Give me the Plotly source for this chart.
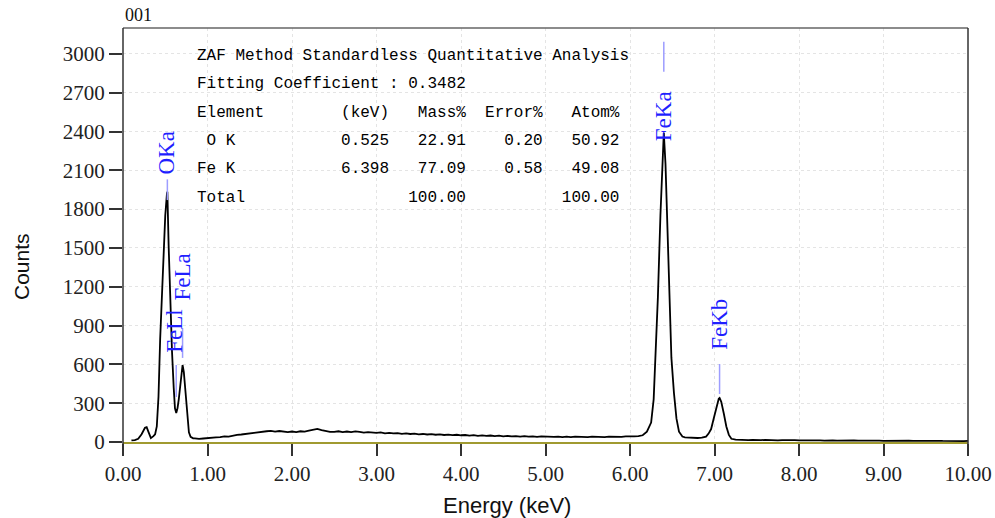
import plotly.graph_objects as go

# ---------------- data ----------------
# spectrum: low-energy region (O K / Fe L peaks)
energy_low = [0.10, 0.14, 0.18, 0.22, 0.26, 0.28, 0.30, 0.33, 0.36, 0.38, 0.40, 0.42, 0.44, 0.46, 0.48,
              0.50, 0.52, 0.525, 0.54, 0.56, 0.58, 0.60, 0.615, 0.63, 0.645, 0.66, 0.68, 0.70, 0.705,
              0.72, 0.74, 0.76, 0.78, 0.80, 0.83]
counts_low = [12, 15, 25, 60, 110, 115, 80, 30, 45, 60, 120, 350, 800, 1150, 1500,
              1750, 1920, 1935, 1520, 1050, 700, 420, 260, 225, 260, 330, 470, 590, 595,
              540, 380, 200, 75, 40, 28]

# background continuum
energy_bg = [0.85, 0.90, 0.95, 1.00, 1.05, 1.10, 1.15, 1.20, 1.25, 1.30, 1.35, 1.40, 1.45, 1.50, 1.55,
             1.60, 1.65, 1.70, 1.75, 1.80, 1.85, 1.90, 1.95, 2.00, 2.05, 2.10, 2.15, 2.20, 2.25, 2.30,
             2.35, 2.40, 2.45, 2.50, 2.55, 2.60, 2.65, 2.70, 2.75, 2.80, 2.85, 2.90, 2.95, 3.00, 3.05,
             3.10, 3.15, 3.20, 3.25, 3.30, 3.35, 3.40, 3.45, 3.50, 3.55, 3.60, 3.65, 3.70, 3.75, 3.80,
             3.85, 3.90, 3.95, 4.00, 4.05, 4.10, 4.15, 4.20, 4.25, 4.30, 4.35, 4.40, 4.45, 4.50, 4.55,
             4.60, 4.65, 4.70, 4.75, 4.80, 4.85, 4.90, 4.95, 5.00, 5.05, 5.10, 5.15, 5.20, 5.25, 5.30,
             5.35, 5.40, 5.45, 5.50, 5.55, 5.60, 5.65, 5.70, 5.75, 5.80, 5.85, 5.90, 5.95, 6.00, 6.05,
             6.10, 6.15]
counts_bg = [28, 24, 27, 28, 31, 35, 38, 44, 42, 50, 55, 58, 63, 66, 70,
             73, 78, 83, 86, 80, 85, 78, 76, 81, 77, 83, 80, 87, 95, 101,
             92, 84, 79, 78, 83, 77, 81, 76, 82, 78, 73, 77, 71, 70, 74,
             67, 71, 66, 69, 63, 66, 62, 65, 59, 62, 58, 61, 56, 59, 54,
             57, 53, 56, 52, 54, 50, 53, 48, 51, 47, 50, 46, 49, 44, 47,
             43, 46, 42, 45, 41, 44, 40, 43, 40, 42, 39, 42, 38, 41, 38,
             42, 39, 41, 38, 41, 39, 42, 38, 41, 39, 42, 40, 43, 41, 43,
             46, 52]

# Fe K peaks
energy_fek = [6.20, 6.25, 6.28, 6.30, 6.33, 6.36, 6.38, 6.40, 6.42, 6.44, 6.46, 6.49, 6.52, 6.55,
              6.58, 6.62, 6.65, 6.70, 6.75, 6.80, 6.85, 6.90, 6.93, 6.96, 6.99, 7.02, 7.05, 7.06,
              7.08, 7.11, 7.14, 7.17, 7.20]
counts_fek = [80, 150, 330, 620, 1120, 1750, 2150, 2390, 2150, 1700, 1150, 650, 380, 180,
              80, 42, 36, 33, 35, 31, 34, 42, 65, 100, 180, 270, 335, 340,
              310, 220, 120, 55, 25]

# high-energy tail
energy_tail = [7.25, 7.30, 7.35, 7.40, 7.45, 7.50, 7.55, 7.60, 7.65, 7.70, 7.75, 7.80, 7.85, 7.90,
               7.95, 8.00, 8.05, 8.10, 8.15, 8.20, 8.25, 8.30, 8.35, 8.40, 8.45, 8.50, 8.55, 8.60,
               8.65, 8.70, 8.75, 8.80, 8.85, 8.90, 8.95, 9.00, 9.05, 9.10, 9.15, 9.20, 9.25, 9.30,
               9.35, 9.40, 9.45, 9.50, 9.55, 9.60, 9.65, 9.70, 9.75, 9.80, 9.85, 9.90, 9.95, 10.00]
counts_tail = [18, 16, 17, 15, 16, 14, 15, 16, 14, 15, 13, 14, 15, 13,
               14, 12, 13, 14, 12, 13, 12, 11, 13, 12, 11, 12, 10, 11,
               12, 10, 11, 10, 9, 11, 10, 9, 10, 9, 10, 8, 9, 10,
               8, 9, 8, 9, 8, 7, 9, 8, 7, 8, 7, 8, 7, 8]

energy_kev = energy_low + energy_bg + energy_fek + energy_tail
counts = counts_low + counts_bg + counts_fek + counts_tail
assert len(energy_kev) == len(counts)

# peak identification labels
peak_names = ["OKa", "FeLl", "FeLa", "FeKa", "FeKb"]
peak_energy = [0.525, 0.63, 0.705, 6.40, 7.06]

# quantitative table
table_title = "ZAF Method Standardless Quantitative Analysis"
fit_line = "Fitting Coefficient : 0.3482"
header = ["Element", "(keV)", "Mass%", "Error%", "Atom%"]
elements = [" O K", "Fe K"]
kev_vals = ["0.525", "6.398"]
mass_vals = ["22.91", "77.09"]
error_vals = ["0.20", "0.58"]
atom_vals = ["50.92", "49.08"]
total_row = ["Total", "", "100.00", "", "100.00"]

x_ticks = [0, 1, 2, 3, 4, 5, 6, 7, 8, 9, 10]
y_ticks = [0, 300, 600, 900, 1200, 1500, 1800, 2100, 2400, 2700, 3000]

# ---------------- figure ----------------
SERIF = "Liberation Serif, Times New Roman, serif"
MONO = "Liberation Mono, Courier New, monospace"
SANS = "Liberation Sans, Arial, sans-serif"
BLUE = "#1f1fff"
LIGHTBLUE = "#9d9dff"
L, R, T, B = 123, 27, 28, 76
PW, PH = 995 - L - R, 518 - T - B

fig = go.Figure()
fig.add_trace(go.Scatter(x=energy_kev, y=counts, mode="lines",
                         line=dict(color="black", width=1.8), hoverinfo="skip", showlegend=False))

# peak marker lines (light blue) and rotated labels
line_spans = {"OKa": (1870, 2030), "FeLl": (348, 595), "FeLa": (650, 881),
              "FeKa": (2861, 3093), "FeKb": (371, 603)}
label_pos = {"OKa": (0.51, 2230), "FeLl": (0.60, 858), "FeLa": (0.706, 1276),
             "FeKa": (6.395, 2521), "FeKb": (7.05, 912)}
for name, e in zip(peak_names, peak_energy):
    y0, y1 = line_spans[name]
    fig.add_shape(type="line", xref="x", yref="y", x0=e, x1=e, y0=y0, y1=y1,
                  line=dict(color=LIGHTBLUE, width=1.5), layer="above")
    lx, ly = label_pos[name]
    fig.add_annotation(x=lx, y=ly, xref="x", yref="y", text=name, showarrow=False,
                       textangle=-90, font=dict(family=SERIF, size=23, color=BLUE),
                       xanchor="center", yanchor="middle")

# table text (monospaced, column aligned)
def row(cells):
    widths = [(0, "l"), (20, "r"), (28, "r"), (36, "r"), (44, "r")]
    s = ""
    for (end, al), c in zip(widths, cells):
        if al == "l":
            s = c
        else:
            s = s.ljust(end - len(c)) + c if c else s
    return s.replace(" ", "\u00a0")

rows = [table_title.replace(" ", "\u00a0"), fit_line.replace(" ", "\u00a0"), row(header)]
for i in range(len(elements)):
    rows.append(row([elements[i], kev_vals[i], mass_vals[i], error_vals[i], atom_vals[i]]))
rows.append(row(total_row))

row_px = [56, 84, 113, 141, 169, 198]
for txt, py in zip(rows, row_px):
    fig.add_annotation(x=(195 - L) / PW, y=(T + PH - py) / PH,
                       xref="paper", yref="paper", text=txt, showarrow=False,
                       xanchor="left", yanchor="middle",
                       font=dict(family=MONO, size=16, color="#000"))

# "001" label
fig.add_annotation(x=0, y=1.0, xref="paper", yref="paper", text="001", showarrow=False,
                   xanchor="left", yanchor="bottom", yshift=1,
                   font=dict(family=SERIF, size=18, color="#111"))

# axis titles
fig.add_annotation(x=(21 - L) / PW, y=(T + PH - 267) / PH, xref="paper", yref="paper",
                   text="Counts", showarrow=False, textangle=-90,
                   xanchor="center", yanchor="middle",
                   font=dict(family=SANS, size=21, color="#111"))
fig.add_annotation(x=(507 - L) / PW, y=(T + PH - 505) / PH, xref="paper", yref="paper",
                   text="Energy (keV)", showarrow=False,
                   xanchor="center", yanchor="middle",
                   font=dict(family=SANS, size=22, color="#111"))

# frame: top gray border, left & right dark lines extending slightly below zero
fig.add_shape(type="line", xref="paper", yref="paper", x0=0, x1=1, y0=1, y1=1,
              line=dict(color="#666", width=1.5))
fig.add_shape(type="line", xref="paper", yref="paper", x0=1, x1=1, y0=-13 / PH, y1=1,
              line=dict(color="#333", width=1.5))
fig.add_shape(type="line", xref="paper", yref="paper", x0=0, x1=0, y0=-13 / PH, y1=1,
              line=dict(color="#333", width=1.5))

fig.update_layout(
    width=995, height=518,
    margin=dict(l=L, r=R, t=T, b=B, autoexpand=False),
    paper_bgcolor="white", plot_bgcolor="white",
    xaxis=dict(range=[0, 10], tickvals=x_ticks, tickformat=".2f", automargin=False,
               showgrid=True, gridcolor="#e4e4e4", griddash="dot", gridwidth=1,
               showline=True, linecolor="#a09a30", linewidth=2,
               ticks="outside", ticklen=12, tickcolor="#333", tickwidth=1.5,
               tickfont=dict(family=SERIF, size=21, color="#222"),
               zeroline=False),
    yaxis=dict(range=[0, 3200], tickvals=y_ticks, automargin=False,
               showgrid=True, gridcolor="#e4e4e4", griddash="dot", gridwidth=1,
               showline=False,
               ticks="outside", ticklen=13, tickcolor="#333", tickwidth=1.5,
               tickfont=dict(family=SERIF, size=21, color="#222"),
               zeroline=False),
)

fig.write_html("out.html", config={"displayModeBar": False},
               post_script="document.body.style.margin='0';document.body.style.overflow='hidden';")
